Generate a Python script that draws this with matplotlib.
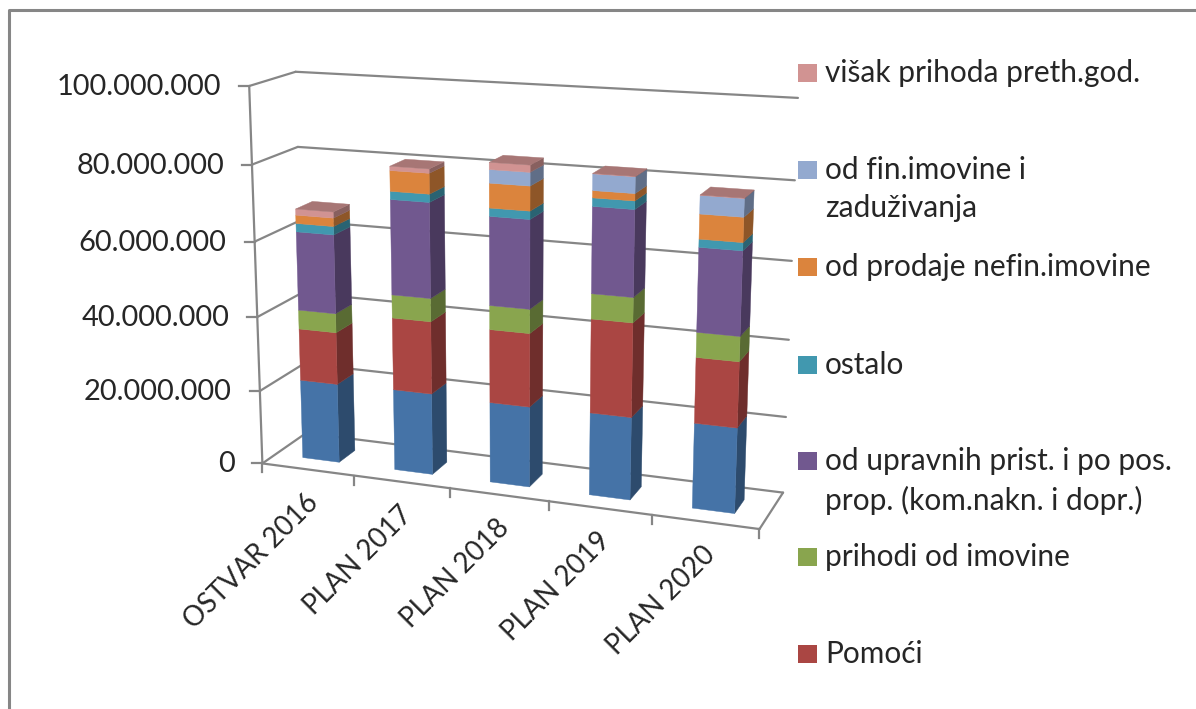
"""Stacked 3D column chart (Excel style) drawn on a flat axes through a fitted projection."""
import matplotlib
matplotlib.use("Agg")
import matplotlib.pyplot as plt
import numpy as np
from matplotlib.colors import to_rgb

plt.rcParams["font.family"] = ["Lato", "DejaVu Sans"]

# ---- Data (millions) ---------------------------------------------------
categories = ["OSTVAR 2016", "PLAN 2017", "PLAN 2018", "PLAN 2019", "PLAN 2020"]
y_ticks = [0, 20_000_000, 40_000_000, 60_000_000, 80_000_000, 100_000_000]

pomoci_base = [21.5, 21.8, 21.3, 21.6, 22.0]
pomoci = [14.0, 19.2, 19.2, 24.2, 16.7]
imovina = [5.1, 6.1, 6.25, 6.4, 6.3]
upravne = [20.9, 24.8, 22.8, 21.8, 21.0]
ostalo = [2.2, 2.1, 2.1, 2.1, 2.0]
nefin = [2.2, 5.3, 6.25, 1.8, 6.1]
fin = [0.0, 0.0, 3.4, 4.1, 4.5]
visak = [1.6, 1.1, 1.8, 0.1, 0.1]

series = [pomoci_base, pomoci, imovina, upravne, ostalo, nefin, fin, visak]
colors = ["#4573A7", "#AA4643", "#89A54E", "#71588F",
          "#4198AF", "#DB843D", "#93A9CF", "#D19392"]

# Legend, top to bottom (the blue base series is cut off in the source picture)
legend_labels = ["višak prihoda preth.god.", "od fin.imovine i\nzaduživanja",
                 "od prodaje nefin.imovine", "ostalo",
                 "od upravnih prist. i po pos.\nprop. (kom.nakn. i dopr.)",
                 "prihodi od imovine", "Pomoći"]
legend_colors = ["#D19392", "#93A9CF", "#DB843D", "#4198AF", "#71588F", "#89A54E", "#AA4643"]
legend_y = [73, 170, 267, 365, 461, 557, 654]

GRID = "#868686"
BAR_U = (0.30, 0.70)   # bar span inside its category slot
BAR_V = (0.30, 0.68)   # bar span along the depth of the floor

# ---- Projection: (category, depth, value share) -> picture pixels --------
calib = [
    (0, 0, 0, 264, 461), (0, 0, .2, 261, 389), (0, 0, .4, 258, 315),
    (0, 0, .6, 255, 242), (0, 0, .8, 251, 164), (0, 0, 1, 247, 86),
    (1, 0, 0, 356, 477), (2, 0, 0, 449, 490), (3, 0, 0, 549, 503),
    (4, 0, 0, 652, 518), (5, 0, 0, 758, 528),
    (0, 1, 0, 303, 435), (0, 1, .8, 298, 147), (0, 1, 1, 297, 73),
    (5, 1, 0, 783, 490), (5, 1, .2, 787, 416), (5, 1, .4, 789, 339),
    (5, 1, .6, 792, 261), (5, 1, .8, 795, 181), (5, 1, 1, 798, 98),
]


def fit_projection(points):
    rows = []
    for u, v, z, x, y in points:
        x, y = x / 1000, y / 1000
        rows.append([u, v, z, 1, 0, 0, 0, 0, -x * u, -x * v, -x * z, -x])
        rows.append([0, 0, 0, 0, u, v, z, 1, -y * u, -y * v, -y * z, -y])
    return np.linalg.svd(np.array(rows))[2][-1].reshape(3, 4)


M = fit_projection(calib)


def project(u, v, z):
    p = M @ np.array([u, v, z, 1.0])
    return p[0] / p[2] * 1000, p[1] / p[2] * 1000


def shade(color, factor):
    return tuple(c * factor for c in to_rgb(color))


def face(ax, corners, color, zorder=3):
    pts = [project(*c) for c in corners]
    ax.fill([p[0] for p in pts], [p[1] for p in pts], color=color, lw=0.3, zorder=zorder)


def line(ax, a, b, lw=1.6, zorder=1):
    pa, pb = project(*a), project(*b)
    ax.plot([pa[0], pb[0]], [pa[1], pb[1]], color=GRID, lw=lw, zorder=zorder,
            solid_capstyle="round")


fig = plt.figure(figsize=(11.96, 7.09), dpi=100)
ax = fig.add_axes([0, 0, 1, 1])
ax.set_xlim(0, 1196)
ax.set_ylim(709, 0)
ax.axis("off")

# Outer frame, only left and top are in the crop
ax.plot([9, 9, 1196], [709, 10, 10], color=GRID, lw=2.2, zorder=1)

# ---- Walls and floor ---------------------------------------------------
n = len(categories)
y_max = y_ticks[-1]
for tick in y_ticks:
    z = tick / y_max
    line(ax, (0, 0, z), (0, 1, z))
    line(ax, (0, 1, z), (n, 1, z))
    x0, y0 = project(0, 0, z)
    ax.plot([x0 - 10, x0], [y0, y0], color=GRID, lw=1.6, zorder=1)
    ax.text(x0 - 28, y0 + 1, f"{tick:,}".replace(",", "."), ha="right", va="center",
            fontsize=20.9, color="#262626")
line(ax, (0, 0, 0), (0, 0, 1))
line(ax, (0, 0, 0), (n, 0, 0))
line(ax, (n, 0, 0), (n, 1, 0))
for i in range(n + 1):
    x0, y0 = project(i, 0, 0)
    ax.plot([x0, x0], [y0, y0 + 9], color=GRID, lw=1.6, zorder=1)

# ---- Stacked bars ------------------------------------------------------
for i in range(n):
    u0, u1 = i + BAR_U[0], i + BAR_U[1]
    v0, v1 = BAR_V
    base = 0.0
    for values, color in zip(series, colors):
        top = base + values[i] * 1e6 / y_max
        if values[i] > 0:
            face(ax, [(u1, v0, base), (u1, v1, base), (u1, v1, top), (u1, v0, top)],
                 shade(color, 0.65))
            face(ax, [(u0, v0, base), (u1, v0, base), (u1, v0, top), (u0, v0, top)], color)
            top_color = color
        base = top
    face(ax, [(u0, v0, base), (u1, v0, base), (u1, v1, base), (u0, v1, base)],
         shade(top_color, 0.8))

    x0, y0 = project(i + 0.5, 0, 0)
    ax.text(x0 + 6, y0 + 29, categories[i], rotation=45, rotation_mode="anchor",
            ha="right", va="center", fontsize=19.8, color="#262626")

# ---- Legend ------------------------------------------------------------
for label, color, y in zip(legend_labels, legend_colors, legend_y):
    ax.fill([798, 817, 817, 798], [y - 9, y - 9, y + 9, y + 9], color=color, lw=0)
    ax.text(825, y - 14, label, ha="left", va="top", fontsize=21.5, color="#262626",
            linespacing=1.45)

fig.savefig("out.png", dpi=100)
